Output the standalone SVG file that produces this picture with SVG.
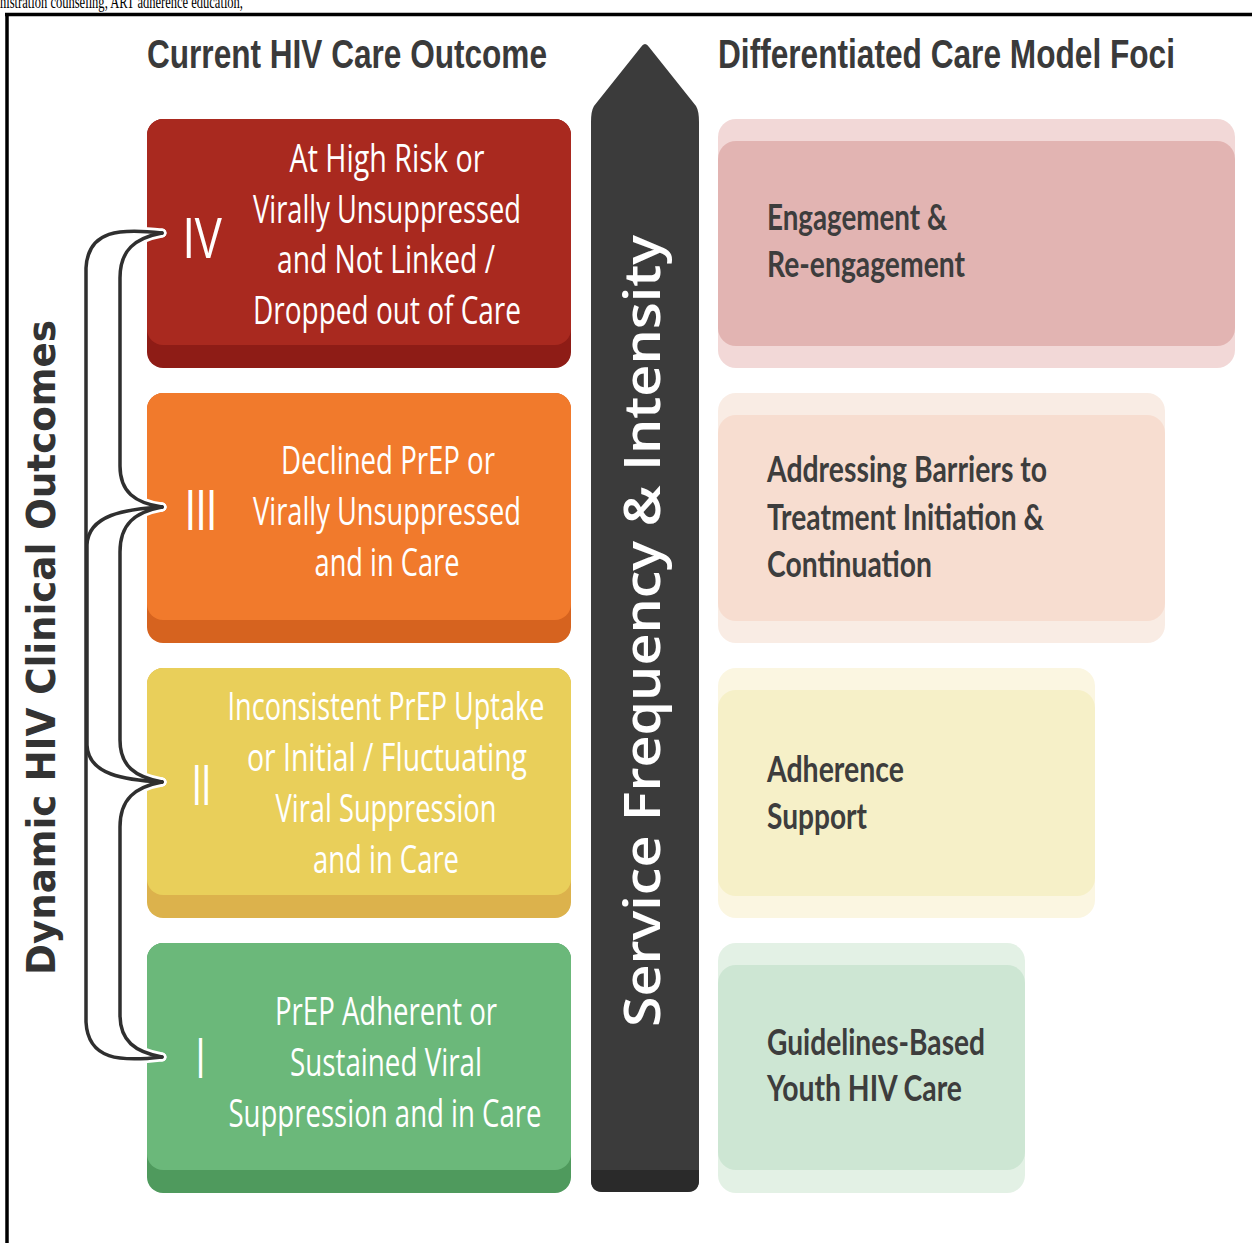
<svg xmlns="http://www.w3.org/2000/svg" width="1252" height="1243" viewBox="0 0 1252 1243">
<style>
.title{font-family:"Liberation Sans",Arial,sans-serif;font-weight:bold;font-size:41px;fill:#3a3a3a}
.lt{font-family:"Open Sans","Noto Sans",sans-serif;font-size:39px;fill:#ffffff;text-anchor:middle}
.num{font-family:"Liberation Sans",Arial,sans-serif;font-size:58px;fill:#ffffff}
.rt{font-family:Lato,"Liberation Sans",sans-serif;font-weight:bold;font-size:36px;fill:#3d3d3d}
.br{fill:none;stroke:#2f2f2f;stroke-width:3.5;stroke-linecap:round;stroke-linejoin:round}
.halo{fill:none;stroke:#ffffff;stroke-width:9;stroke-linecap:round;stroke-linejoin:round}
</style>
<rect x="0" y="0" width="1252" height="1243" fill="#ffffff"/>
<text x="0" y="7.5" font-family="Liberation Serif,Times New Roman,serif" font-size="19" textLength="243" lengthAdjust="spacingAndGlyphs" fill="#000">nistration counseling, ART adherence education,</text>
<line x1="5" y1="14.5" x2="1252" y2="14.5" stroke="#000" stroke-width="3.5"/>
<line x1="7" y1="13" x2="7" y2="1243" stroke="#000" stroke-width="3.5"/>

<text class="title" x="147" y="68" textLength="400" lengthAdjust="spacingAndGlyphs">Current HIV Care Outcome</text>
<text class="title" x="718" y="68" textLength="457" lengthAdjust="spacingAndGlyphs">Differentiated Care Model Foci</text>

<text transform="translate(55,647.5) rotate(-90)" text-anchor="middle" font-family="DejaVu Sans,Verdana,sans-serif" font-weight="bold" font-size="39" fill="#333333" textLength="655" lengthAdjust="spacingAndGlyphs">Dynamic HIV Clinical Outcomes</text>

<g id="box-iv">
<rect x="147" y="119" width="424" height="249" rx="16" fill="#8e1c16"/>
<rect x="147" y="119" width="424" height="226" rx="16" fill="#a9291f"/>
<text class="num" x="183" y="258" textLength="39" lengthAdjust="spacingAndGlyphs">IV</text>
<text class="lt" x="387" y="172" textLength="195" lengthAdjust="spacingAndGlyphs">At High Risk or</text>
<text class="lt" x="387" y="223" textLength="268" lengthAdjust="spacingAndGlyphs">Virally Unsuppressed</text>
<text class="lt" x="386" y="273" textLength="218" lengthAdjust="spacingAndGlyphs">and Not Linked /</text>
<text class="lt" x="387" y="324" textLength="268" lengthAdjust="spacingAndGlyphs">Dropped out of Care</text>
</g>
<g id="box-iii">
<rect x="147" y="393" width="424" height="250" rx="16" fill="#d6631f"/>
<rect x="147" y="393" width="424" height="227" rx="16" fill="#f17a2c"/>
<text class="num" x="185" y="530" textLength="32" lengthAdjust="spacingAndGlyphs">III</text>
<text class="lt" x="388" y="474" textLength="214" lengthAdjust="spacingAndGlyphs">Declined PrEP or</text>
<text class="lt" x="387" y="525" textLength="268" lengthAdjust="spacingAndGlyphs">Virally Unsuppressed</text>
<text class="lt" x="387" y="576" textLength="145" lengthAdjust="spacingAndGlyphs">and in Care</text>
</g>
<g id="box-ii">
<rect x="147" y="668" width="424" height="250" rx="16" fill="#dcb24c"/>
<rect x="147" y="668" width="424" height="227" rx="16" fill="#e9cf5a"/>
<text class="num" x="192" y="805" textLength="19" lengthAdjust="spacingAndGlyphs">II</text>
<text class="lt" x="386" y="720" textLength="317" lengthAdjust="spacingAndGlyphs" fill="#fdf8e4">Inconsistent PrEP Uptake</text>
<text class="lt" x="387" y="771" textLength="280" lengthAdjust="spacingAndGlyphs" fill="#fdf8e4">or Initial / Fluctuating</text>
<text class="lt" x="386" y="822" textLength="221" lengthAdjust="spacingAndGlyphs" fill="#fdf8e4">Viral Suppression</text>
<text class="lt" x="386" y="873" textLength="146" lengthAdjust="spacingAndGlyphs" fill="#fdf8e4">and in Care</text>
</g>
<g id="box-i">
<rect x="147" y="943" width="424" height="250" rx="16" fill="#4f9a5d"/>
<rect x="147" y="943" width="424" height="227" rx="16" fill="#6bb87a"/>
<text class="num" x="196" y="1078" textLength="9" lengthAdjust="spacingAndGlyphs">I</text>
<text class="lt" x="386" y="1025" textLength="222" lengthAdjust="spacingAndGlyphs">PrEP Adherent or</text>
<text class="lt" x="386" y="1076" textLength="192" lengthAdjust="spacingAndGlyphs">Sustained Viral</text>
<text class="lt" x="385" y="1127" textLength="313" lengthAdjust="spacingAndGlyphs">Suppression and in Care</text>
</g>

<g id="connectors">
<g class="halo">
<path d="M162,233 C120,228 88,230 86,268 L86,1022 C88,1060 120,1062 162,1057"/>
<path d="M162,233 C135,238 120,250 120,278 L120,466 C120,492 135,503 162,507"/>
<path d="M162,507 C125,509 88,515 87,545 L87,745 C88,775 125,780 162,782"/>
<path d="M162,507 C135,512 120,524 120,552 L120,740 C120,766 135,777 162,782"/>
<path d="M162,782 C135,787 120,799 120,827 L120,1015 C120,1041 135,1052 162,1057"/>
</g>
<g class="br">
<path d="M162,233 C120,228 88,230 86,268 L86,1022 C88,1060 120,1062 162,1057"/>
<path d="M162,233 C135,238 120,250 120,278 L120,466 C120,492 135,503 162,507"/>
<path d="M162,507 C125,509 88,515 87,545 L87,745 C88,775 125,780 162,782"/>
<path d="M162,507 C135,512 120,524 120,552 L120,740 C120,766 135,777 162,782"/>
<path d="M162,782 C135,787 120,799 120,827 L120,1015 C120,1041 135,1052 162,1057"/>
</g>
</g>

<g id="arrow">
<path d="M645,44 Q647,44 649,47 L696,106 Q699,111 699,122 L699,1180 Q699,1192 687,1192 L603,1192 Q591,1192 591,1180 L591,122 Q591,111 594,106 L641,47 Q643,44 645,44 Z" fill="#3b3b3b"/>
<path d="M591,1170 L699,1170 L699,1180 Q699,1192 687,1192 L603,1192 Q591,1192 591,1180 Z" fill="#2a2a2a"/>
<text transform="translate(660,631) rotate(-90)" text-anchor="middle" font-family="Open Sans,DejaVu Sans,sans-serif" font-weight="600" font-size="50" fill="#ffffff" textLength="792" lengthAdjust="spacingAndGlyphs">Service Frequency &amp; Intensity</text>
</g>

<g id="focus-engagement">
<rect x="718" y="119" width="517" height="249" rx="18" fill="#f2d8d7"/>
<rect x="718" y="141" width="517" height="205" rx="18" fill="#e2b4b2"/>
<text class="rt" x="767" y="230" textLength="180" lengthAdjust="spacingAndGlyphs">Engagement &amp;</text>
<text class="rt" x="767" y="277" textLength="198" lengthAdjust="spacingAndGlyphs">Re-engagement</text>
</g>
<g id="focus-barriers">
<rect x="718" y="393" width="447" height="250" rx="18" fill="#f9ece4"/>
<rect x="718" y="415" width="447" height="206" rx="18" fill="#f7ddd0"/>
<text class="rt" x="767" y="482" textLength="280" lengthAdjust="spacingAndGlyphs">Addressing Barriers to</text>
<text class="rt" x="767" y="530" textLength="277" lengthAdjust="spacingAndGlyphs">Treatment Initiation &amp;</text>
<text class="rt" x="767" y="577" textLength="165" lengthAdjust="spacingAndGlyphs">Continuation</text>
</g>
<g id="focus-adherence">
<rect x="718" y="668" width="377" height="250" rx="18" fill="#fbf6e1"/>
<rect x="718" y="690" width="377" height="206" rx="18" fill="#f6f0c8"/>
<text class="rt" x="767" y="782" textLength="137" lengthAdjust="spacingAndGlyphs">Adherence</text>
<text class="rt" x="767" y="829" textLength="100" lengthAdjust="spacingAndGlyphs">Support</text>
</g>
<g id="focus-guidelines">
<rect x="718" y="943" width="307" height="250" rx="18" fill="#e3f1e5"/>
<rect x="718" y="965" width="307" height="205" rx="18" fill="#cde6d3"/>
<text class="rt" x="767" y="1055" textLength="218" lengthAdjust="spacingAndGlyphs">Guidelines-Based</text>
<text class="rt" x="767" y="1101" textLength="195" lengthAdjust="spacingAndGlyphs">Youth HIV Care</text>
</g>
</svg>
